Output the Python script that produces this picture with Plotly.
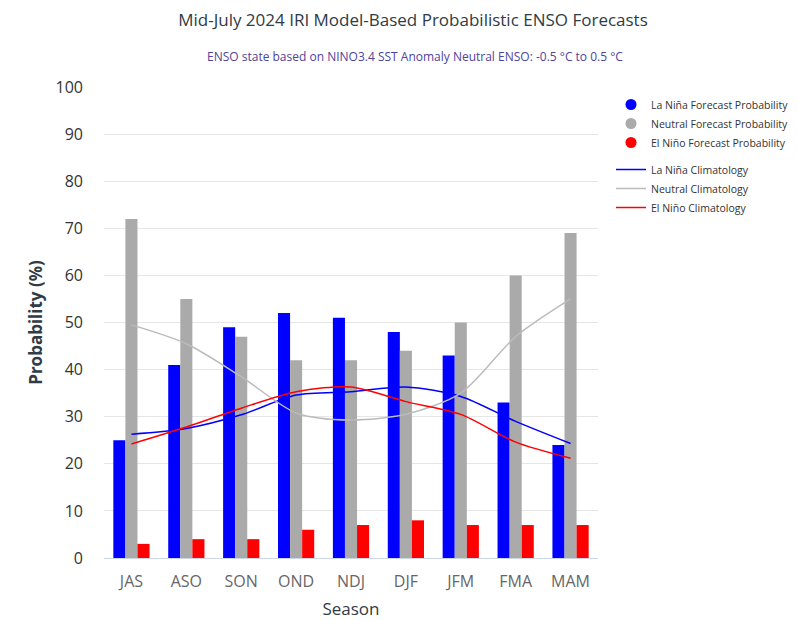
import plotly.graph_objects as go

seasons = ["JAS", "ASO", "SON", "OND", "NDJ", "DJF", "JFM", "FMA", "MAM"]
la_nina_prob = [25, 41, 49, 52, 51, 48, 43, 33, 24]
neutral_prob = [72, 55, 47, 42, 42, 44, 50, 60, 69]
el_nino_prob = [3, 4, 4, 6, 7, 8, 7, 7, 7]

la_nina_clim = [26.3, 27.5, 30.4, 34.6, 35.3, 36.3, 34.3, 29.0, 24.3]
neutral_clim = [49.5, 45.5, 38.5, 30.8, 29.3, 30.5, 35.0, 47.0, 55.0]
el_nino_clim = [24.2, 27.8, 31.8, 35.3, 36.3, 33.2, 30.5, 24.6, 21.2]

BLUE = "#0000ff"
GRAY = "#aaaaaa"
RED = "#ff0000"
FONT = "Open Sans"
DARK = "#2f3b45"

# page body has an 8px margin; figure is offset by 8px
W, H = 790, 612
ML, MT = 96, 79
PW, PH = 494, 471

fig = go.Figure()

for name, vals, col in [("La Niña Forecast Probability", la_nina_prob, BLUE),
                        ("Neutral Forecast Probability", neutral_prob, GRAY),
                        ("El Niño Forecast Probability", el_nino_prob, RED)]:
    fig.add_trace(go.Bar(x=seasons, y=vals, name=name, marker_color=col,
                         marker_line_width=0, showlegend=False))

# legend entries (circle markers) for the bar series
for name, col in [("La Niña Forecast Probability", BLUE),
                  ("Neutral Forecast Probability", GRAY),
                  ("El Niño Forecast Probability", RED)]:
    fig.add_trace(go.Scatter(x=[None], y=[None], mode="markers", name=name,
                             marker=dict(color=col, size=11, symbol="circle"),
                             legend="legend"))

for name, vals, col in [("La Niña Climatology", la_nina_clim, BLUE),
                        ("Neutral Climatology", neutral_clim, "#bbbbbb"),
                        ("El Niño Climatology", el_nino_clim, RED)]:
    fig.add_trace(go.Scatter(x=seasons, y=vals, mode="lines", name=name,
                             line=dict(color=col, width=1.5, shape="spline", smoothing=0.8),
                             legend="legend2"))

leg_common = dict(xref="container", yref="container", x=603 / W, xanchor="left",
                  yanchor="top", font=dict(size=10.5, color="#333333", family=FONT),
                  itemwidth=30, bgcolor="rgba(0,0,0,0)")

fig.update_layout(
    width=W, height=H,
    margin=dict(l=ML, r=W - ML - PW, t=MT, b=H - MT - PH),
    paper_bgcolor="white", plot_bgcolor="white",
    barmode="group", bargap=0.34, bargroupgap=0,
    font=dict(family=FONT, color="#333333"),
    title=dict(text="Mid-July 2024 IRI Model-Based Probabilistic ENSO Forecasts",
               x=405 / W, xanchor="center", y=1 - 12 / H, yanchor="middle",
               font=dict(size=17, color=DARK, family=FONT)),
    legend=dict(y=1 - 82 / H, **leg_common),
    legend2=dict(y=1 - 147 / H, **leg_common),
    annotations=[dict(text="ENSO state based on NINO3.4 SST Anomaly Neutral ENSO: -0.5 °C to 0.5 °C",
                      xref="paper", yref="paper", x=(407 - ML) / PW, y=1 + (MT - 48) / PH,
                      xanchor="center", yanchor="middle", showarrow=False,
                      font=dict(size=12, color="#4f439c", family=FONT))],
)

fig.update_xaxes(range=[-0.5, 8.5], showline=True, linecolor="#ccd6eb", linewidth=1,
                 showgrid=False, ticks="", tickfont=dict(size=16, color="#666666"),
                 ticklabelstandoff=9, automargin=False,
                 title=dict(text="Season", font=dict(size=17, color=DARK), standoff=11))
fig.update_yaxes(range=[0, 100], dtick=10, showgrid=True, gridcolor="#e6e6e6", gridwidth=1,
                 zeroline=False, ticks="", tickfont=dict(size=16, color="#333333"),
                 ticklabelstandoff=20, automargin=False,
                 title=dict(text="<b>Probability (%)</b>", font=dict(size=17, color=DARK),
                            standoff=8))

fig.write_html("out.html")
